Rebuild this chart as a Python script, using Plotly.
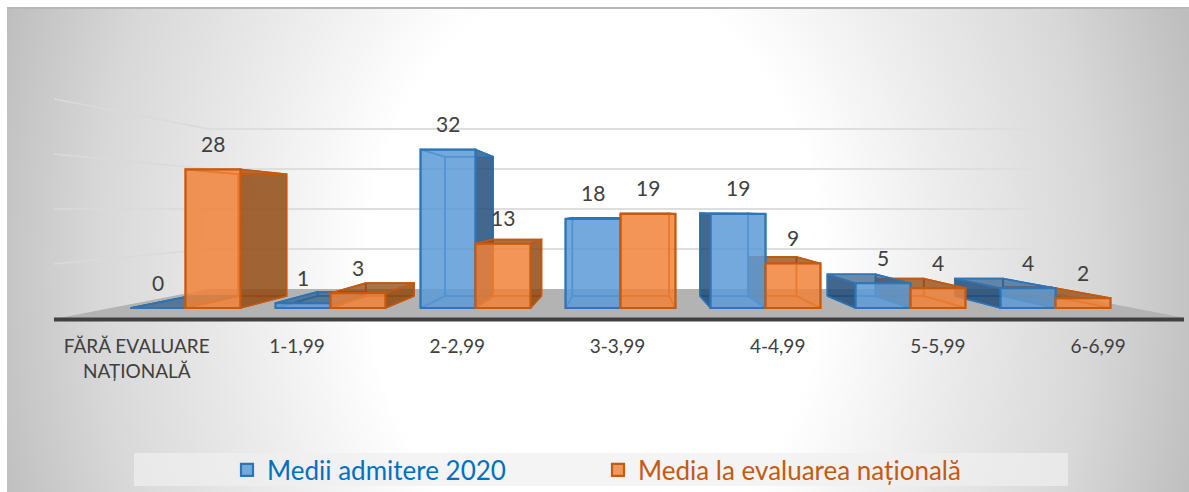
import base64
import plotly.graph_objects as go

# ---------- data ----------
categories = ["FĂRĂ EVALUARE<br>NAȚIONALĂ", "1-1,99", "2-2,99", "3-3,99", "4-4,99", "5-5,99", "6-6,99"]
series_names = ["Medii admitere 2020", "Media la evaluarea națională"]
medii_admitere = [0, 1, 32, 18, 19, 5, 4]
media_evaluare = [28, 3, 13, 19, 9, 4, 2]
grid_values = [10, 20, 30, 40]

# ---------- geometry / style ----------
W, H = 1189, 492
ML, MR, MT, MB = 54, 5, 0, 174
X0, XSTEP = 185.5, 145.0      # px of category 0 centre, px per category
Y0, YUNIT = 308.0, 4.95       # px of value 0, px per unit
BAR = 0.379                   # bar width in category units
CVP, VVP = (622 - X0) / XSTEP, 20.0   # vanishing point
R_BACK, R_WALL, R_AXIS = 0.879, 0.808, 1.111
WALL_L = (209 - X0) / XSTEP   # left edge of the back wall, at wall depth


def proj(c, v, r):
    return CVP + (c - CVP) * r, VVP + (v - VVP) * r


def px(xp):
    return (xp - ML) / (W - ML - MR)


def py(yp):
    return (H - MB - yp) / (H - MB - MT)


BLUE = dict(front="rgba(91,155,213,0.82)", line="#2e75b6", inner="rgba(91,155,213,0.22)", dark="rgba(30,70,115,0.80)",
            top="rgba(45,90,135,0.65)", text="#0070c0")
ORANGE = dict(front="rgba(240,130,55,0.80)", line="#c55a11", inner="rgba(237,125,49,0.22)", dark="rgba(140,70,15,0.80)",
              top="rgba(140,70,15,0.72)", text="#c55a11")

fig = go.Figure()

# back / left wall gridlines
front_c_l = (WALL_L - CVP) / R_WALL + CVP
front_c_r = (CVP + (CVP - WALL_L) - CVP) / R_WALL + CVP
for g in grid_values:
    a0, b0 = proj(front_c_l, g, R_AXIS)
    a1, b1 = proj(front_c_l, g, R_WALL)
    a2, b2 = proj(front_c_r, g, R_WALL)
    fig.add_trace(go.Scatter(x=[a0, a1], y=[b0, b1], mode="lines", line=dict(color="#dadada", width=1.6),
                             showlegend=False, hoverinfo="skip", zorder=0))
    fig.add_trace(go.Scatter(x=[a1, a2], y=[b1, b2], mode="lines", line=dict(color="#dedede", width=2.2),
                             showlegend=False, hoverinfo="skip", zorder=0))

# floor
floor = [proj(front_c_l, 0, R_WALL), proj(front_c_r, 0, R_WALL), proj(front_c_r, 0, R_AXIS), proj(front_c_l, 0, R_AXIS)]
fig.add_trace(go.Scatter(x=[p[0] for p in floor] + [floor[0][0]], y=[p[1] for p in floor] + [floor[0][1]],
                         mode="lines", fill="toself", fillcolor="#b3b3b3", line=dict(width=0),
                         showlegend=False, hoverinfo="skip", zorder=1))


def add_face(pts, fill, line, width, z):
    xs = [p[0] for p in pts] + [pts[0][0]]
    ys = [p[1] for p in pts] + [pts[0][1]]
    fig.add_trace(go.Scatter(x=xs, y=ys, mode="lines", fill="toself", fillcolor=fill,
                             line=dict(color=line, width=width), showlegend=False, hoverinfo="skip", zorder=z))


def add_cube(i, v, offset, st, z):
    cl, cr = i + offset, i + offset + BAR
    bl0, br0 = proj(cl, 0, R_BACK), proj(cr, 0, R_BACK)
    bl1, br1 = proj(cl, v, R_BACK), proj(cr, v, R_BACK)
    fl0, fr0, fl1, fr1 = (cl, 0), (cr, 0), (cl, v), (cr, v)
    add_face([bl0, br0, br1, bl1], st["inner"], st["line"], 1.5, z)        # back
    add_face([fl0, fr0, br0, bl0], st["inner"], st["line"], 1.5, z)        # bottom
    left_outer = cl > CVP
    right_outer = cr < CVP
    add_face([fl0, bl0, bl1, fl1], st["dark"] if left_outer else st["inner"], st["line"], 1.5, z)
    add_face([fr0, br0, br1, fr1], st["dark"] if right_outer else st["inner"], st["line"], 1.5, z)
    add_face([fl1, fr1, br1, bl1], st["top"] if v < VVP else st["inner"], st["line"], 1.5, z)


# cubes, painted from the outside in towards the vanishing point
cubes = []
for i in range(len(categories)):
    cubes.append((i, medii_admitere[i], -BAR, BLUE))
    cubes.append((i, media_evaluare[i], 0.0, ORANGE))
cubes.sort(key=lambda q: -abs(q[0] + q[2] + BAR / 2 - CVP))
for k, (i, v, off, st) in enumerate(cubes):
    add_cube(i, v, off, st, 2 + k)

# front faces: the real bars
idx = list(range(len(categories)))
for name, vals, off, st in [(series_names[0], medii_admitere, -BAR, BLUE), (series_names[1], media_evaluare, 0.0, ORANGE)]:
    fig.add_trace(go.Bar(x=idx, y=vals, width=BAR, offset=off,
                         name=f'<span style="color:{st["text"]}">{name}</span>',
                         marker=dict(color=st["front"], line=dict(color=st["line"], width=2.2)),
                         zorder=100, hoverinfo="x+y"))
    for i, v in zip(idx, vals):
        fig.add_annotation(x=i + off + BAR / 2, y=v, yshift=26, text=str(v), showarrow=False,
                           font=dict(family="Lato", size=21, color="#404040"), xanchor="center", yanchor="middle")

# gradient background
svg = f'''<svg xmlns="http://www.w3.org/2000/svg" width="{W}" height="{H}"><defs>
<radialGradient id="g" gradientUnits="userSpaceOnUse" cx="595" cy="270" r="1" gradientTransform="translate(595 270) scale(621 806) translate(-595 -270)">
<stop offset="0" stop-color="#ffffff"/><stop offset="0.364" stop-color="#ffffff"/><stop offset="0.58" stop-color="#ebebeb"/><stop offset="0.8" stop-color="#d8d8d8"/><stop offset="1" stop-color="#bebebe"/>
</radialGradient></defs><rect x="7" y="7" width="1182" height="485" fill="url(#g)"/><rect x="7" y="7" width="1182" height="2" fill="#b8b8b8"/></svg>'''
src = "data:image/svg+xml;base64," + base64.b64encode(svg.encode()).decode()

fig.update_layout(
    width=W, height=H,
    margin=dict(l=ML, r=MR, t=MT, b=MB, autoexpand=False),
    paper_bgcolor="white", plot_bgcolor="rgba(0,0,0,0)",
    barmode="overlay",
    xaxis=dict(range=[(ML - X0) / XSTEP, (W - MR - X0) / XSTEP],
               tickmode="array",
               tickvals=[CVP - 0.02 + (i - CVP) * 1.105 for i in idx],
               ticktext=categories,
               showgrid=False, zeroline=False, showline=False,
               ticks="", ticklabelstandoff=15,
               tickfont=dict(family="Lato", size=19, color="#404040")),
    yaxis=dict(range=[(Y0 - (H - MB)) / YUNIT, Y0 / YUNIT], showgrid=False, zeroline=False, showline=False,
               showticklabels=False, ticks=""),
    showlegend=True,
    legend=dict(orientation="h", x=px(227), xanchor="left", y=py(470), yanchor="middle",
                yref="paper", xref="paper", bgcolor="rgba(0,0,0,0)", traceorder="normal",
                entrywidth=326, entrywidthmode="pixels", itemclick=False, itemdoubleclick=False,
                font=dict(family="Lato", size=26)),
    images=[dict(source=src, xref="paper", yref="paper", x=px(0), y=py(0), sizex=px(W) - px(0), sizey=py(0) - py(H),
                 xanchor="left", yanchor="top", sizing="stretch", layer="below")],
    shapes=[dict(type="rect", xref="paper", yref="paper", x0=px(134), x1=px(1068), y0=py(486), y1=py(453),
                 fillcolor="rgba(240,240,240,0.7)", line=dict(width=0), layer="below"),
            dict(type="rect", xref="paper", yref="paper", x0=px(54), x1=px(1184), y0=py(321.5), y1=py(317.5),
                 fillcolor="#404040", line=dict(width=0), layer="above")],
)

fig.write_html("out.html", config={"displayModeBar": False},
               post_script="document.body.style.margin='0';document.body.style.overflow='hidden';")
